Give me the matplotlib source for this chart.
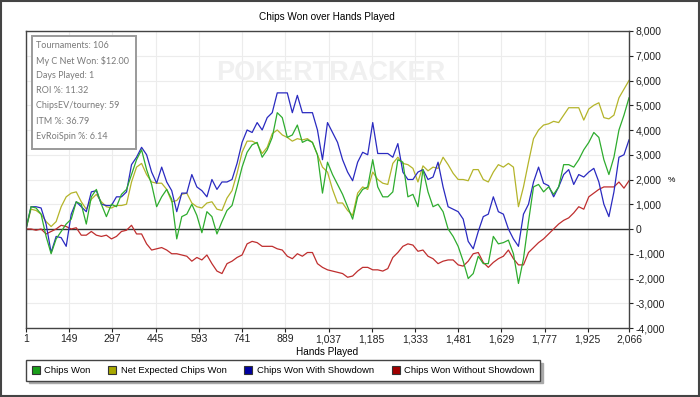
import numpy as np
import matplotlib
matplotlib.use('Agg')
import matplotlib.pyplot as plt
from matplotlib.patches import Patch, Rectangle
from matplotlib.ticker import FuncFormatter

# hands grid (121 samples across the session)
hands = np.linspace(1, 2066, 121)

chips_won = [
    0, 900, 850, 600, -300, -1000, -400, -100, 200, 400,
    1100, 1000, 200, 1300, 1600, 1000, 500, 1000, 900, 1400,
    1600, 2200, 2800, 3200, 2400, 1800, 900, 1300, 1600, 1200,
    -400, 500, 600, 1000, 550, -150, 700, 500, -200, 300,
    750, 950, 1700, 2500, 3100, 3400, 3500, 2900, 3200, 3700,
    4700, 4500, 3700, 3800, 4200, 3500, 3600, 3500, 3000, 1450,
    2700, 2200, 1800, 1400, 900, 400, 1300, 1600, 1700, 2800,
    1700, 1300, 1300, 1500, 2800, 2700, 1300, 1400, 900, 2400,
    1500, 900, 1000, 700, 0, -300, -700, -1300, -2000, -1800,
    -1100, -1400, -1400, -300, -600, -550, -450, -1000, -2200, -1200,
    300, 1700, 1800, 1500, 1700, 1400, 1700, 2600, 2600, 2500,
    2800, 3200, 3500, 3900, 3700, 2800, 2200, 2900, 4000, 4600,
    5300]

net_expected = [
    0, 800, 750, 600, 300, 100, 300, 900, 1300, 1450,
    1500, 1100, 800, 1200, 1400, 1100, 900, 850, 950, 950,
    1000, 1900, 2500, 2650, 2200, 1900, 1850, 1850, 1600, 1100,
    1150, 1400, 1450, 1050, 900, 850, 1050, 1100, 800, 750,
    1250, 1550, 2250, 3100, 3550, 3550, 3450, 3050, 3300, 3850,
    4000, 3800, 3700, 3550, 3650, 3600, 3650, 3500, 3000, 2500,
    2300, 1600, 1050, 1050, 750, 550, 1450, 1700, 1600, 2300,
    2000, 1850, 1800, 2650, 2900, 2650, 2600, 2450, 1900, 2550,
    2350, 2500, 2450, 2900, 2600, 2250, 2000, 2000, 1950, 2400,
    2400, 2000, 1900, 2300, 2600, 2500, 2650, 2500, 900, 1700,
    2700, 3650, 4000, 4200, 4250, 4350, 4300, 4600, 4900, 4900,
    4900, 4400, 4850, 5000, 5100, 4500, 4450, 4600, 5300, 5650,
    6000]

with_showdown = [
    0, 900, 900, 850, 200, -950, -300, -350, -700, 600,
    1100, 900, 700, 1500, 1550, 1000, 950, 950, 1300, 1300,
    1500, 2600, 2900, 3300, 3000, 2300, 1850, 2500, 1900, 1550,
    700, 1450, 1450, 2200, 1700, 1550, 1300, 2000, 1600, 1900,
    1900, 2000, 2650, 3500, 4000, 3900, 4300, 4000, 4500, 4700,
    5500, 5500, 5500, 4700, 5400, 4700, 4700, 4700, 4000, 2800,
    4300, 3900, 3500, 2800, 2300, 1950, 2700, 3100, 3000, 4300,
    3050, 3050, 3050, 2900, 3450, 2300, 2000, 2000, 2300, 2400,
    2000, 2100, 2700, 1700, 900, 800, 700, 400, -500, -800,
    -100, 500, 600, 1300, 700, 600, 0, -400, -700, 600,
    1000, 1900, 2500, 1850, 1750, 1300, 1700, 2200, 2400, 1800,
    2200, 2100, 2300, 2450, 1900, 1000, 500, 1500, 2900, 3000,
    3600]

without_showdown = [
    0, 0, -50, 0, -200, -100, 0, 150, 100, 0,
    50, -250, -250, -100, -250, -300, -250, -400, -300, -100,
    -50, 150, -200, -200, -600, -850, -800, -750, -850, -1000,
    -1000, -1050, -1100, -1300, -1150, -1250, -1050, -1400, -1700, -1800,
    -1400, -1300, -1150, -1050, -600, -500, -550, -700, -700, -700,
    -800, -850, -1100, -1200, -1000, -1100, -950, -950, -1400, -1550,
    -1650, -1700, -1750, -1800, -1950, -1900, -1700, -1550, -1550, -1650,
    -1650, -1700, -1600, -1150, -950, -700, -600, -650, -900, -850,
    -1100, -1200, -1400, -1300, -1250, -1250, -1450, -1500, -1300, -1000,
    -950, -1350, -1550, -1350, -1200, -1100, -850, -1200, -1450, -1450,
    -950, -750, -550, -400, -200, 0, 200, 350, 450, 650,
    900, 800, 1300, 1450, 1600, 1700, 1700, 1700, 1900, 1650,
    1950]

x_ticks = [1, 149, 297, 445, 593, 741, 889, 1037, 1185, 1333, 1481, 1629, 1777, 1925, 2066]
y_ticks = list(range(-4000, 8001, 1000))

stats = ['Tournaments: 106', 'My C Net Won: $12.00', 'Days Played: 1', 'ROI %: 11.32',
         'ChipsEV/tourney: 59', 'ITM %: 36.79', 'EvRoiSpin %: 6.14']

labels = ['Chips Won', 'Net Expected Chips Won', 'Chips Won With Showdown', 'Chips Won Without Showdown']
line_colors = ['#2eac2e', '#b4b42a', '#2a2ac0', '#bf2e2e']
legend_colors = ['#1a9e1a', '#a8a800', '#0000a0', '#a00000']

plt.rcParams['font.family'] = ['Liberation Sans', 'DejaVu Sans']

fig = plt.figure(figsize=(7, 3.97), dpi=100)
ax = fig.add_axes([26 / 700, 1 - 328 / 397, 603 / 700, 297 / 397])

ax.set_axisbelow(True)
ax.grid(True, color='#ececec', lw=0.8)
ax.axhline(0, color='#333333', lw=1.0, zorder=1.5)

ax.plot(hands, without_showdown, color=line_colors[3], lw=0.9)
ax.plot(hands, net_expected, color=line_colors[1], lw=0.9)
ax.plot(hands, with_showdown, color=line_colors[2], lw=0.9)
ax.plot(hands, chips_won, color=line_colors[0], lw=0.9)

ax.set_xlim(1, 2066)
ax.set_ylim(-4000, 8000)
ax.set_xticks(x_ticks)
ax.set_yticks(y_ticks)
fmt = FuncFormatter(lambda v, p: f'{v:,.0f}')
ax.xaxis.set_major_formatter(fmt)
ax.yaxis.set_major_formatter(fmt)
ax.yaxis.tick_right()
ax.tick_params(direction='out', length=3, labelsize=7.5, colors='#222222', pad=1.5)
for s in ax.spines.values():
    s.set_color('#444444')
    s.set_linewidth(1.0)

# watermark
ax.text(0.505, 0.86, 'POKERTRACKER', transform=ax.transAxes, ha='center', va='center',
        fontsize=19.5, fontweight='bold', color='#f0f0f0', zorder=0.6)

# info box
ax.add_patch(Rectangle((32 / 700, 1 - 149 / 397), 104 / 700, 113 / 397, transform=fig.transFigure,
                       facecolor='white', edgecolor='#9a9a9a', lw=1.4, zorder=5))
for i, s in enumerate(stats):
    fig.text(36 / 700, 1 - (45.5 + 15.1 * i) / 397, s, fontsize=6.5, color='#7a7a7a',
             va='center', ha='left', family=['Lato', 'DejaVu Sans'], zorder=6)

fig.text(327 / 700, 1 - 17 / 397, 'Chips Won over Hands Played', ha='center', va='center', fontsize=7.2)
fig.text(327 / 700, 1 - 352 / 397, 'Hands Played', ha='center', va='center', fontsize=7.2)
fig.text(671 / 700, 1 - 180 / 397, '%', ha='center', va='center', fontsize=6)

handles = [Patch(facecolor=c, edgecolor='#333333', lw=0.8) for c in legend_colors]
leg = fig.legend(handles, labels, ncol=4, loc='center left', bbox_to_anchor=(26 / 700, 1 - 370.5 / 397),
                 fontsize=6.8, frameon=True, fancybox=False, shadow={'color': '#aaaaaa', 'alpha': 1},
                 handlelength=0.85, handleheight=0.85, handletextpad=0.45, columnspacing=1.9,
                 borderpad=0.6, borderaxespad=0)
leg.get_frame().set_edgecolor('#444444')
leg.get_frame().set_linewidth(1.0)

fig.patches.append(Rectangle((0.001, 0.002), 0.997, 0.996, transform=fig.transFigure,
                             fill=False, edgecolor='#444444', lw=1.5))

fig.savefig('out.png', dpi=100)
